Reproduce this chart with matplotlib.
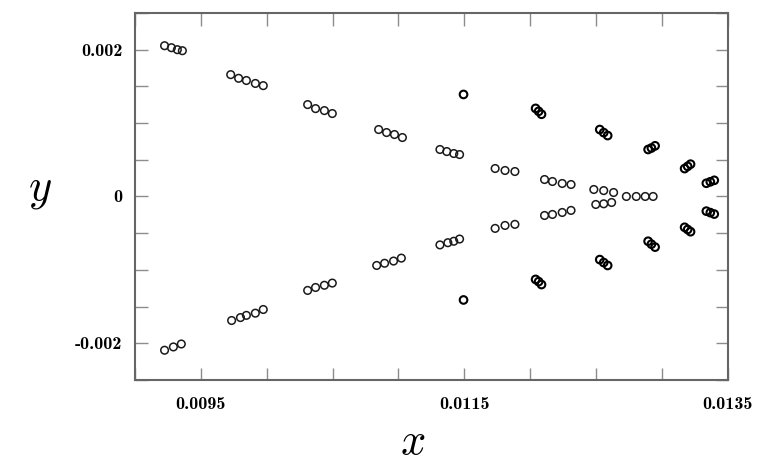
import matplotlib
matplotlib.use('Agg')
import matplotlib.pyplot as plt

# upper branch (y > 0)
x_up = [0.009225, 0.009277, 0.009322, 0.009360,
        0.009727, 0.009787, 0.009846, 0.009914, 0.009974,
        0.010311, 0.010371, 0.010438, 0.010498,
        0.010850, 0.010910, 0.010970, 0.011030,
        0.011315, 0.011367, 0.011420, 0.011464,
        0.011734, 0.011809, 0.011884,
        0.012109, 0.012169, 0.012243, 0.012310,
        0.012483, 0.012558, 0.012633]
y_up = [0.002054, 0.002027, 0.002000, 0.001986,
        0.00166, 0.00161, 0.00158, 0.00154, 0.00151,
        0.001252, 0.001197, 0.00117, 0.00113,
        0.000912, 0.000871, 0.000844, 0.000803,
        0.00064, 0.000612, 0.000585, 0.000571,
        0.000381, 0.000354, 0.00034,
        0.000231, 0.000204, 0.000177, 0.000163,
        0.000095, 0.00008, 0.000054]

# lower branch (y < 0)
x_lo = [0.009225, 0.009292, 0.009352,
        0.009734, 0.009801, 0.009846, 0.009914, 0.009974,
        0.010311, 0.010371, 0.010438, 0.010498,
        0.010835, 0.010895, 0.010963, 0.011022,
        0.011315, 0.011375, 0.011420, 0.011464,
        0.011734, 0.011809, 0.011884,
        0.012109, 0.012169, 0.012243, 0.012310,
        0.012498, 0.012558, 0.012618]
y_lo = [-0.002095, -0.00205, -0.00201,
        -0.00169, -0.00165, -0.00162, -0.00159, -0.00154,
        -0.00128, -0.00124, -0.00121, -0.00118,
        -0.00094, -0.00091, -0.00088, -0.00084,
        -0.00066, -0.00063, -0.00061, -0.00058,
        -0.000435, -0.000395, -0.00038,
        -0.000259, -0.000245, -0.000218, -0.00019,
        -0.000109, -0.0001, -0.000082]

# points on the axis
x_mid = [0.01273, 0.012805, 0.012873, 0.012933]
y_mid = [0.0, 0.0, 0.0, 0.0]

# tight clumps on the right
x_clump = [0.011494, 0.011494,
           0.012041, 0.012064, 0.012086, 0.012041, 0.012064, 0.012086,
           0.012528, 0.012558, 0.012588, 0.012528, 0.012558, 0.012588,
           0.012895, 0.012920, 0.012948, 0.012895, 0.012920, 0.012948,
           0.013172, 0.013195, 0.013217, 0.013172, 0.013195, 0.013217,
           0.013337, 0.013367, 0.013397, 0.013337, 0.013367, 0.013397]
y_clump = [0.00139, -0.00141,
           0.00120, 0.00116, 0.00112, -0.00113, -0.00116, -0.00120,
           0.000912, 0.00087, 0.00083, -0.00086, -0.0009, -0.00094,
           0.00064, 0.00066, 0.00069, -0.00061, -0.00065, -0.00069,
           0.00038, 0.00041, 0.00044, -0.00042, -0.00045, -0.00048,
           0.00018, 0.0002, 0.00022, -0.0002, -0.00022, -0.00024]

x_ticks = [0.009 + 0.0005 * i for i in range(10)]
x_ticklabels = ['', '0.0095', '', '', '', '0.0115', '', '', '', '0.0135']
y_ticks = [-0.0025 + 0.0005 * i for i in range(11)]
y_ticklabels = ['', '-0.002', '', '', '', '0', '', '', '', '0.002', '']

plt.rcParams['mathtext.fontset'] = 'cm'

fig = plt.figure(figsize=(7.71, 4.72), dpi=100)
ax = fig.add_axes([0.175, 0.195, 0.769, 0.7775])

ms = dict(s=30, facecolors='none', edgecolors='0.1', linewidths=1.1, marker='o')
ax.scatter(x_up, y_up, **ms)
ax.scatter(x_lo, y_lo, **ms)
ax.scatter(x_mid, y_mid, **ms)
ax.scatter(x_clump, y_clump, s=30, facecolors='none', edgecolors='k',
           linewidths=1.5, marker='o')

ax.set_xlim(0.009, 0.0135)
ax.set_ylim(-0.0025, 0.0025)
ax.set_xticks(x_ticks)
ax.set_xticklabels(x_ticklabels, family='cmb10', fontsize=13)
ax.set_yticks(y_ticks)
ax.set_yticklabels(y_ticklabels, family='cmb10', fontsize=13)
ax.tick_params(direction='in', length=9, width=1, color='0.55',
               top=True, right=True)
ax.tick_params(axis='x', pad=12)
ax.tick_params(axis='y', pad=9)

for sp in ax.spines.values():
    sp.set_color('0.4')
    sp.set_linewidth(1.5)

ax.set_xlabel(r'$x$', fontsize=32)
ax.xaxis.set_label_coords(0.469, -0.11)
ax.set_ylabel(r'$y$', fontsize=32, rotation=0, va='center')
ax.yaxis.set_label_coords(-0.16, 0.52)

fig.savefig('out.png', dpi=100)
